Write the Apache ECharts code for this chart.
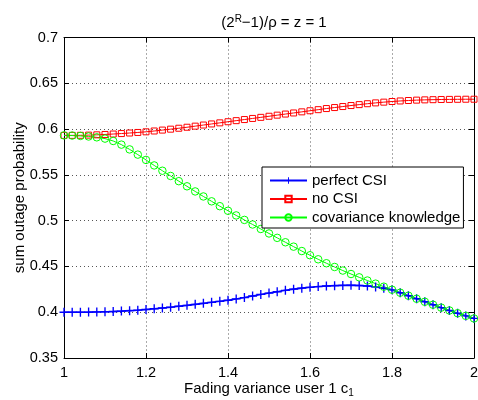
<!DOCTYPE html>
<html>
<head>
<meta charset="utf-8">
<script src="https://cdn.jsdelivr.net/npm/echarts@6/dist/echarts.min.js"></script>
<style>
html,body{margin:0;padding:0;background:#fff;}
#chart{width:478px;height:400px;}
</style>
</head>
<body>
<div id="chart"></div>
<script>
var xValues = [1.00,1.02,1.04,1.06,1.08,1.10,1.12,1.14,1.16,1.18,1.20,1.22,1.24,1.26,1.28,1.30,1.32,1.34,1.36,1.38,1.40,1.42,1.44,1.46,1.48,1.50,1.52,1.54,1.56,1.58,1.60,1.62,1.64,1.66,1.68,1.70,1.72,1.74,1.76,1.78,1.80,1.82,1.84,1.86,1.88,1.90,1.92,1.94,1.96,1.98,2.00];

var perfectCSI = [0.4000,0.4000,0.4000,0.4001,0.4003,0.4005,0.4008,0.4012,0.4017,0.4022,0.4030,0.4038,0.4046,0.4055,0.4065,0.4075,0.4086,0.4097,0.4108,0.4119,0.4131,0.4145,0.4160,0.4177,0.4194,0.4209,0.4224,0.4239,0.4252,0.4263,0.4272,0.4280,0.4286,0.4290,0.4293,0.4294,0.4292,0.4286,0.4276,0.4262,0.4244,0.4213,0.4180,0.4147,0.4114,0.4082,0.4050,0.4019,0.3989,0.3960,0.3932];

var noCSI = [0.5931,0.5931,0.5932,0.5934,0.5937,0.5941,0.5946,0.5951,0.5957,0.5963,0.5970,0.5979,0.5989,0.5999,0.6009,0.6020,0.6032,0.6044,0.6056,0.6068,0.6080,0.6092,0.6104,0.6116,0.6128,0.6140,0.6152,0.6164,0.6176,0.6188,0.6200,0.6212,0.6224,0.6235,0.6246,0.6257,0.6267,0.6277,0.6286,0.6294,0.6301,0.6307,0.6312,0.6316,0.6319,0.6321,0.6323,0.6324,0.6325,0.6326,0.6326];

var covKnowledge = [0.5931,0.5929,0.5925,0.5919,0.5910,0.5896,0.5870,0.5830,0.5778,0.5721,0.5663,0.5603,0.5545,0.5488,0.5431,0.5375,0.5319,0.5264,0.5211,0.5158,0.5108,0.5057,0.5008,0.4958,0.4909,0.4860,0.4812,0.4764,0.4716,0.4668,0.4622,0.4578,0.4535,0.4494,0.4455,0.4417,0.4381,0.4346,0.4312,0.4279,0.4246,0.4213,0.4180,0.4147,0.4114,0.4082,0.4050,0.4019,0.3989,0.3960,0.3932];

var seriesNames = ['perfect CSI', 'no CSI', 'covariance knowledge'];
var xTicks = {min: 1, max: 2, interval: 0.2};
var yTicks = {min: 0.35, max: 0.7, interval: 0.05};

function pairs(ys) { return xValues.map(function (x, i) { return [x, ys[i]]; }); }

var FONT = 'Liberation Sans, Arial, Helvetica, sans-serif';
var plusPath = 'path://M-0.15,-1 L0.15,-1 L0.15,-0.15 L1,-0.15 L1,0.15 L0.15,0.15 L0.15,1 L-0.15,1 L-0.15,0.15 L-1,0.15 L-1,-0.15 L-0.15,-0.15 Z';

var chart = echarts.init(document.getElementById('chart'), null, {renderer: 'canvas'});

var gridLine = {show: true, lineStyle: {color: '#555', width: 1, type: [1, 3]}};
var axisLine = {show: true, onZero: false, lineStyle: {color: '#000', width: 1}};
var tickIn = {show: true, inside: true, length: 5, lineStyle: {color: '#000', width: 1}};
var NONE = 'rgba(0,0,0,0)';

var option = {
  animation: false,
  backgroundColor: '#fff',
  textStyle: {fontFamily: FONT},
  title: {
    text: '(2{sup|R}\u22121)/\u03c1 = z = 1',
    left: 269, top: 9, textAlign: 'center',
    textStyle: {
      fontFamily: FONT, fontSize: 15, fontWeight: 'normal', color: '#000', lineHeight: 18,
      rich: {sup: {fontFamily: FONT, fontSize: 10, lineHeight: 10, verticalAlign: 'top', color: '#000'}}
    }
  },
  grid: {left: 64, right: 4, top: 37.5, bottom: 42, containLabel: false, outerBoundsMode: 'none'},
  legend: {
    orient: 'vertical',
    left: 262, top: 167,
    data: seriesNames,
    itemWidth: 37, itemHeight: 8, itemGap: 3.5,
    padding: [6, 3, 3, 7],
    backgroundColor: '#fff',
    borderColor: '#000', borderWidth: 1, borderRadius: 0,
    textStyle: {fontFamily: FONT, fontSize: 15, color: '#000'}
  },
  xAxis: [{
    type: 'value', min: xTicks.min, max: xTicks.max, interval: xTicks.interval,
    axisLine: axisLine, axisTick: tickIn, splitLine: gridLine,
    axisLabel: {color: '#000', fontFamily: FONT, fontSize: 14.5, margin: 7,
      formatter: function (v) { return String(Math.round(v * 10) / 10); }},
    name: 'Fading variance user 1 c{sub|1}',
    nameLocation: 'middle', nameGap: 22, nameMoveOverlap: false,
    nameTextStyle: {fontFamily: FONT, fontSize: 15, color: '#000', lineHeight: 18, verticalAlign: 'top',
      rich: {sub: {fontFamily: FONT, fontSize: 10, lineHeight: 10, verticalAlign: 'bottom', color: '#000'}}}
  }, {
    type: 'value', position: 'top', min: xTicks.min, max: xTicks.max, interval: xTicks.interval,
    axisLine: axisLine, axisTick: tickIn, splitLine: {show: false}, axisLabel: {show: false}
  }],
  yAxis: [{
    type: 'value', min: yTicks.min, max: yTicks.max, interval: yTicks.interval,
    axisLine: axisLine, axisTick: tickIn, splitLine: gridLine,
    axisLabel: {color: '#000', fontFamily: FONT, fontSize: 14.5, margin: 6,
      formatter: function (v) { return String(Math.round(v * 100) / 100); }},
    name: 'sum outage probability',
    nameLocation: 'middle', nameGap: 37, nameRotate: 90, nameMoveOverlap: false,
    nameTextStyle: {fontFamily: FONT, fontSize: 15, color: '#000'}
  }, {
    type: 'value', position: 'right', min: yTicks.min, max: yTicks.max, interval: yTicks.interval,
    axisLine: axisLine, axisTick: tickIn, splitLine: {show: false}, axisLabel: {show: false}
  }],
  series: [{
    name: seriesNames[0], type: 'line', data: pairs(perfectCSI),
    symbol: plusPath, symbolSize: 9, showAllSymbol: true,
    lineStyle: {color: '#0000ff', width: 1.6},
    itemStyle: {color: '#0000ff', borderWidth: 0}
  }, {
    name: seriesNames[1], type: 'line', data: pairs(noCSI),
    symbol: 'rect', symbolSize: 6, showAllSymbol: true,
    lineStyle: {color: '#ff0000', width: 1},
    itemStyle: {color: NONE, borderColor: '#ff0000', borderWidth: 1}
  }, {
    name: seriesNames[2], type: 'line', data: pairs(covKnowledge),
    symbol: 'circle', symbolSize: 7.5, showAllSymbol: true,
    lineStyle: {color: '#00ff00', width: 1},
    itemStyle: {color: NONE, borderColor: '#00ff00', borderWidth: 1}
  }]
};
chart.setOption(option);
</script>
</body>
</html>
